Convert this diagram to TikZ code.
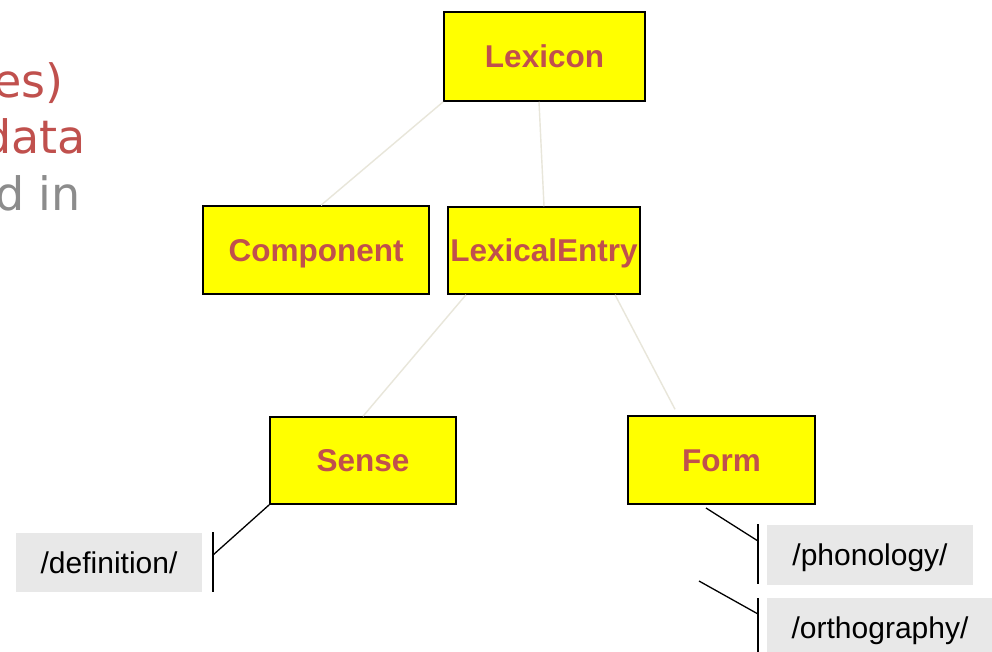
\documentclass[tikz,border=0pt]{standalone}
\usepackage{fontspec}
\setmainfont{Liberation Sans}
\newfontfamily\slidefont{DejaVu Sans}
\definecolor{boxred}{HTML}{C0504D}
\definecolor{boxyellow}{HTML}{FFFF00}
\definecolor{faintline}{HTML}{E8E6DA}
\definecolor{labelgray}{HTML}{E8E8E8}
\definecolor{slidegray}{HTML}{8C8C8C}
\begin{document}
\begin{tikzpicture}[x=1pt,y=-1pt,
  classbox/.style={draw=black,line width=1.5pt,fill=boxyellow,inner sep=0pt,
    text=boxred,font=\bfseries\fontsize{31.5}{36}\selectfont,
    text height=22.6pt,text depth=0pt},
  attrbox/.style={fill=labelgray,inner sep=0pt,text=black,
    font=\fontsize{30}{34}\selectfont,text height=21.5pt,text depth=0pt},
  faint/.style={draw=faintline,line width=1.4pt},
  tick/.style={draw=black,line width=1.3pt},
  slidetext/.style={anchor=base east,inner sep=0pt,
    font=\slidefont\fontsize{46}{56}\selectfont}]
\useasboundingbox (0,0) rectangle (992,651);
\clip (0,0) rectangle (992,651);
\fill[white] (0,0) rectangle (992,651);

% clipped slide text at left
\node[slidetext,text=boxred] (t1) at (64,97) {es)};
\node[slidetext,text=boxred] (t2) at (86,153) {data};
\node[slidetext,text=slidegray] (t3) at (81,210) {d in};

% class boxes
\node[classbox,minimum width=201pt,minimum height=89pt] (lexicon) at (544.5,56.5) {Lexicon};
\node[classbox,minimum width=226pt,minimum height=88pt] (component) at (316,250) {Component};
\node[classbox,minimum width=192pt,minimum height=87pt] (entry) at (544,250.5) {LexicalEntry};
\node[classbox,minimum width=186pt,minimum height=87pt] (sense) at (363,460.5) {Sense};
\node[classbox,minimum width=187pt,minimum height=88pt] (form) at (721.5,460) {Form};

% faint connectors
\draw[faint] (lexicon.south west) -- ([xshift=5pt]component.north);
\draw[faint] ([xshift=-5.5pt]lexicon.south) -- (entry.north);
\draw[faint] ([xshift=-78pt]entry.south) -- (sense.north);
\draw[faint] ([xshift=71pt]entry.south) -- ([xshift=-46.5pt,yshift=6pt]form.north);

% attribute boxes
\node[attrbox,minimum width=186pt,minimum height=59pt] (definition) at (109,562.5) {/definition/};
\node[attrbox,minimum width=206pt,minimum height=60pt] (phonology) at (870,555) {/phonology/};
\node[attrbox,minimum width=226pt,minimum height=60pt] (orthography) at (880,628) {/orthography/};

% black attribute connectors
\coordinate (defjoin) at (213,555);
\coordinate (deftop) at (213,532);
\coordinate (defbot) at (213,592);
\draw[tick] (sense.south west) -- (defjoin);
\draw[tick] (deftop) -- (defbot);

\coordinate (phstart) at (706,508);
\coordinate (phjoin) at (758,541);
\coordinate (phtop) at (758,524);
\coordinate (phbot) at (758,584);
\draw[tick] (phstart) -- (phjoin);
\draw[tick] (phtop) -- (phbot);

\coordinate (orstart) at (699,581);
\coordinate (orjoin) at (758,614);
\coordinate (ortop) at (758,598);
\coordinate (orbot) at (758,660);
\draw[tick] (orstart) -- (orjoin);
\draw[tick] (ortop) -- (orbot);
\end{tikzpicture}
\end{document}
